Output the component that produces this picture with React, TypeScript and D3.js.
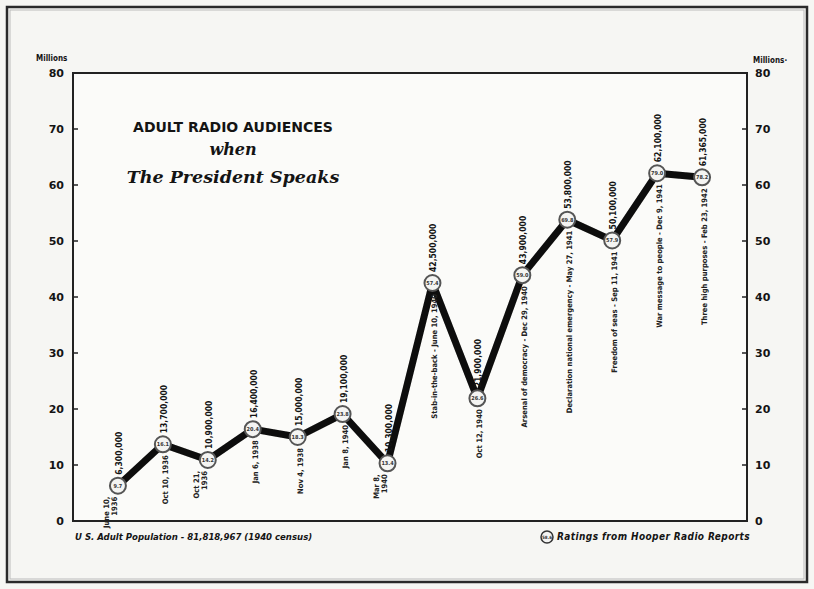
import React from 'react';
import * as d3 from 'd3';

// broadcast dates / occasions (multi-line labels split with |)
const occasions = [
  'June 10,|1936',
  'Oct 10, 1936',
  'Oct 21,|1936',
  'Jan 6, 1938',
  'Nov 4, 1938',
  'Jan 8, 1940',
  'Mar 8,|1940',
  'Stab-in-the-back - June 10, 1940',
  'Oct 12, 1940',
  'Arsenal of democracy - Dec 29, 1940',
  'Declaration national emergency - May 27, 1941',
  'Freedom of seas - Sep 11, 1941',
  'War message to people - Dec 9, 1941',
  'Three high purposes - Feb 23, 1942',
];
// adult audience, millions
const audience = [6.3, 13.7, 10.9, 16.4, 15.0, 19.1, 10.3, 42.5, 21.9, 43.9, 53.8, 50.1, 62.1, 61.365];
const audienceLabels = [
  '6,300,000', '13,700,000', '10,900,000', '16,400,000', '15,000,000', '19,100,000', '10,300,000',
  '42,500,000', '21,900,000', '43,900,000', '53,800,000', '50,100,000', '62,100,000', '61,365,000',
];
// Hooper ratings
const ratings = ['9.7', '16.1', '14.2', '20.4', '18.3', '23.8', '13.4', '57.4', '26.6', '59.0', '69.8', '57.9', '79.0', '78.2'];
const yTicks = [0, 10, 20, 30, 40, 50, 60, 70, 80];

const W = 814;
const H = 589;
const plot = { left: 73, right: 747, top: 73, bottom: 521 };
const labelFont = '"Liberation Sans Narrow", "DejaVu Sans Condensed", sans-serif';
const ink = '#141414';

export default function App() {
  const x = d3.scalePoint<number>()
    .domain(occasions.map((_, i) => i))
    .range([plot.left, plot.right])
    .padding(1);
  const y = d3.scaleLinear().domain([0, 80]).range([plot.bottom, plot.top]);

  const line = d3.line<number>()
    .x((_, i) => x(i) as number)
    .y(d => y(d));

  const r = 8;
  const lineH = 8;

  return (
    <svg width={W} height={H} style={{ position: 'absolute', left: 0, top: 0, background: '#f6f6f3' }}>
      <defs>
        <filter id="soft" x="-5%" y="-5%" width="110%" height="110%">
          <feGaussianBlur stdDeviation="0.6" />
        </filter>
      </defs>
      {/* outer frame */}
      <rect x={7} y={7} width={800} height={575} fill="none" stroke="#2a2a2a" strokeWidth={2.5} />
      <rect x={10} y={10} width={794} height={569} fill="none" stroke="#bbb" strokeWidth={1} />

      {/* plot frame */}
      <rect x={plot.left} y={plot.top} width={plot.right - plot.left} height={plot.bottom - plot.top}
        fill="#fbfbf9" stroke="#222" strokeWidth={2} />

      {/* axes ticks and labels */}
      {yTicks.map(t => (
        <g key={t}>
          {t > 0 && t < 80 && (
            <>
              <line x1={plot.left} x2={plot.left + 5} y1={y(t)} y2={y(t)} stroke="#222" strokeWidth={1.5} />
              <line x1={plot.right - 5} x2={plot.right} y1={y(t)} y2={y(t)} stroke="#222" strokeWidth={1.5} />
            </>
          )}
          <text x={64} y={y(t) + 4} textAnchor="end" fontFamily="DejaVu Sans" fontWeight="bold" fontSize={11} fill={ink}>{t}</text>
          <text x={755} y={y(t) + 4} textAnchor="start" fontFamily="DejaVu Sans" fontWeight="bold" fontSize={11} fill={ink}>{t}</text>
        </g>
      ))}
      <text x={36} y={61} fontFamily={labelFont} fontWeight="bold" fontSize={8} fill={ink}>Millions</text>
      <text x={753} y={63} fontFamily={labelFont} fontWeight="bold" fontSize={8} fill={ink}>Millions·</text>

      {/* title */}
      <text x={233} y={132} textAnchor="middle" fontFamily="DejaVu Sans" fontWeight="bold" fontSize={14} fill={ink}>ADULT RADIO AUDIENCES</text>
      <text x={233} y={155} textAnchor="middle" fontFamily="DejaVu Serif" fontStyle="italic" fontWeight="bold" fontSize={16} fill={ink}>when</text>
      <text x={233} y={183} textAnchor="middle" fontFamily="DejaVu Serif" fontStyle="italic" fontWeight="bold" fontSize={17.5} fill={ink}>The President Speaks</text>

      {/* audience line */}
      <path d={line(audience) as string} fill="none" stroke="#0a0a0a" strokeWidth={7} strokeLinejoin="round" filter="url(#soft)" />

      {/* points and labels */}
      {audience.map((v, i) => {
        const cx = x(i) as number;
        const cy = y(v);
        const lines = occasions[i].split('|');
        return (
          <g key={i}>
            <circle cx={cx} cy={cy} r={r} fill="#f4f4f2" stroke="#555" strokeWidth={2} />
            <text x={cx} y={cy + 2} textAnchor="middle" fontFamily={labelFont} fontWeight="bold" fontSize={5.5} fill="#333">{ratings[i]}</text>
            <g transform={`translate(${cx},${cy}) rotate(-90)`}>
              <text x={r + 3} y={4} textAnchor="start" fontFamily={labelFont} fontWeight="bold" fontSize={8.5} fill={ink}>{audienceLabels[i]}</text>
              {lines.map((s, j) => (
                <text key={j} x={-(r + 3)} y={5 + (j - (lines.length - 1)) * lineH - (lines.length > 1 ? 6 : 0)}
                  textAnchor="end" fontFamily={labelFont} fontWeight="bold" fontSize={7.6} fill="#222">{s}</text>
              ))}
            </g>
          </g>
        );
      })}

      {/* footer */}
      <text x={75} y={540} fontFamily={labelFont} fontStyle="italic" fontWeight="bold" fontSize={9.5} fill={ink}>U S. Adult Population - 81,818,967 (1940 census)</text>
      <circle cx={547} cy={537} r={6} fill="#f4f4f2" stroke="#333" strokeWidth={1.5} />
      <text x={547} y={539} textAnchor="middle" fontFamily={labelFont} fontWeight="bold" fontSize={4.5} fill="#333">58.6</text>
      <text x={557} y={540} fontFamily={labelFont} fontStyle="italic" fontWeight="bold" fontSize={10} letterSpacing={0.4} fill={ink}>Ratings from Hooper Radio Reports</text>
    </svg>
  );
}
